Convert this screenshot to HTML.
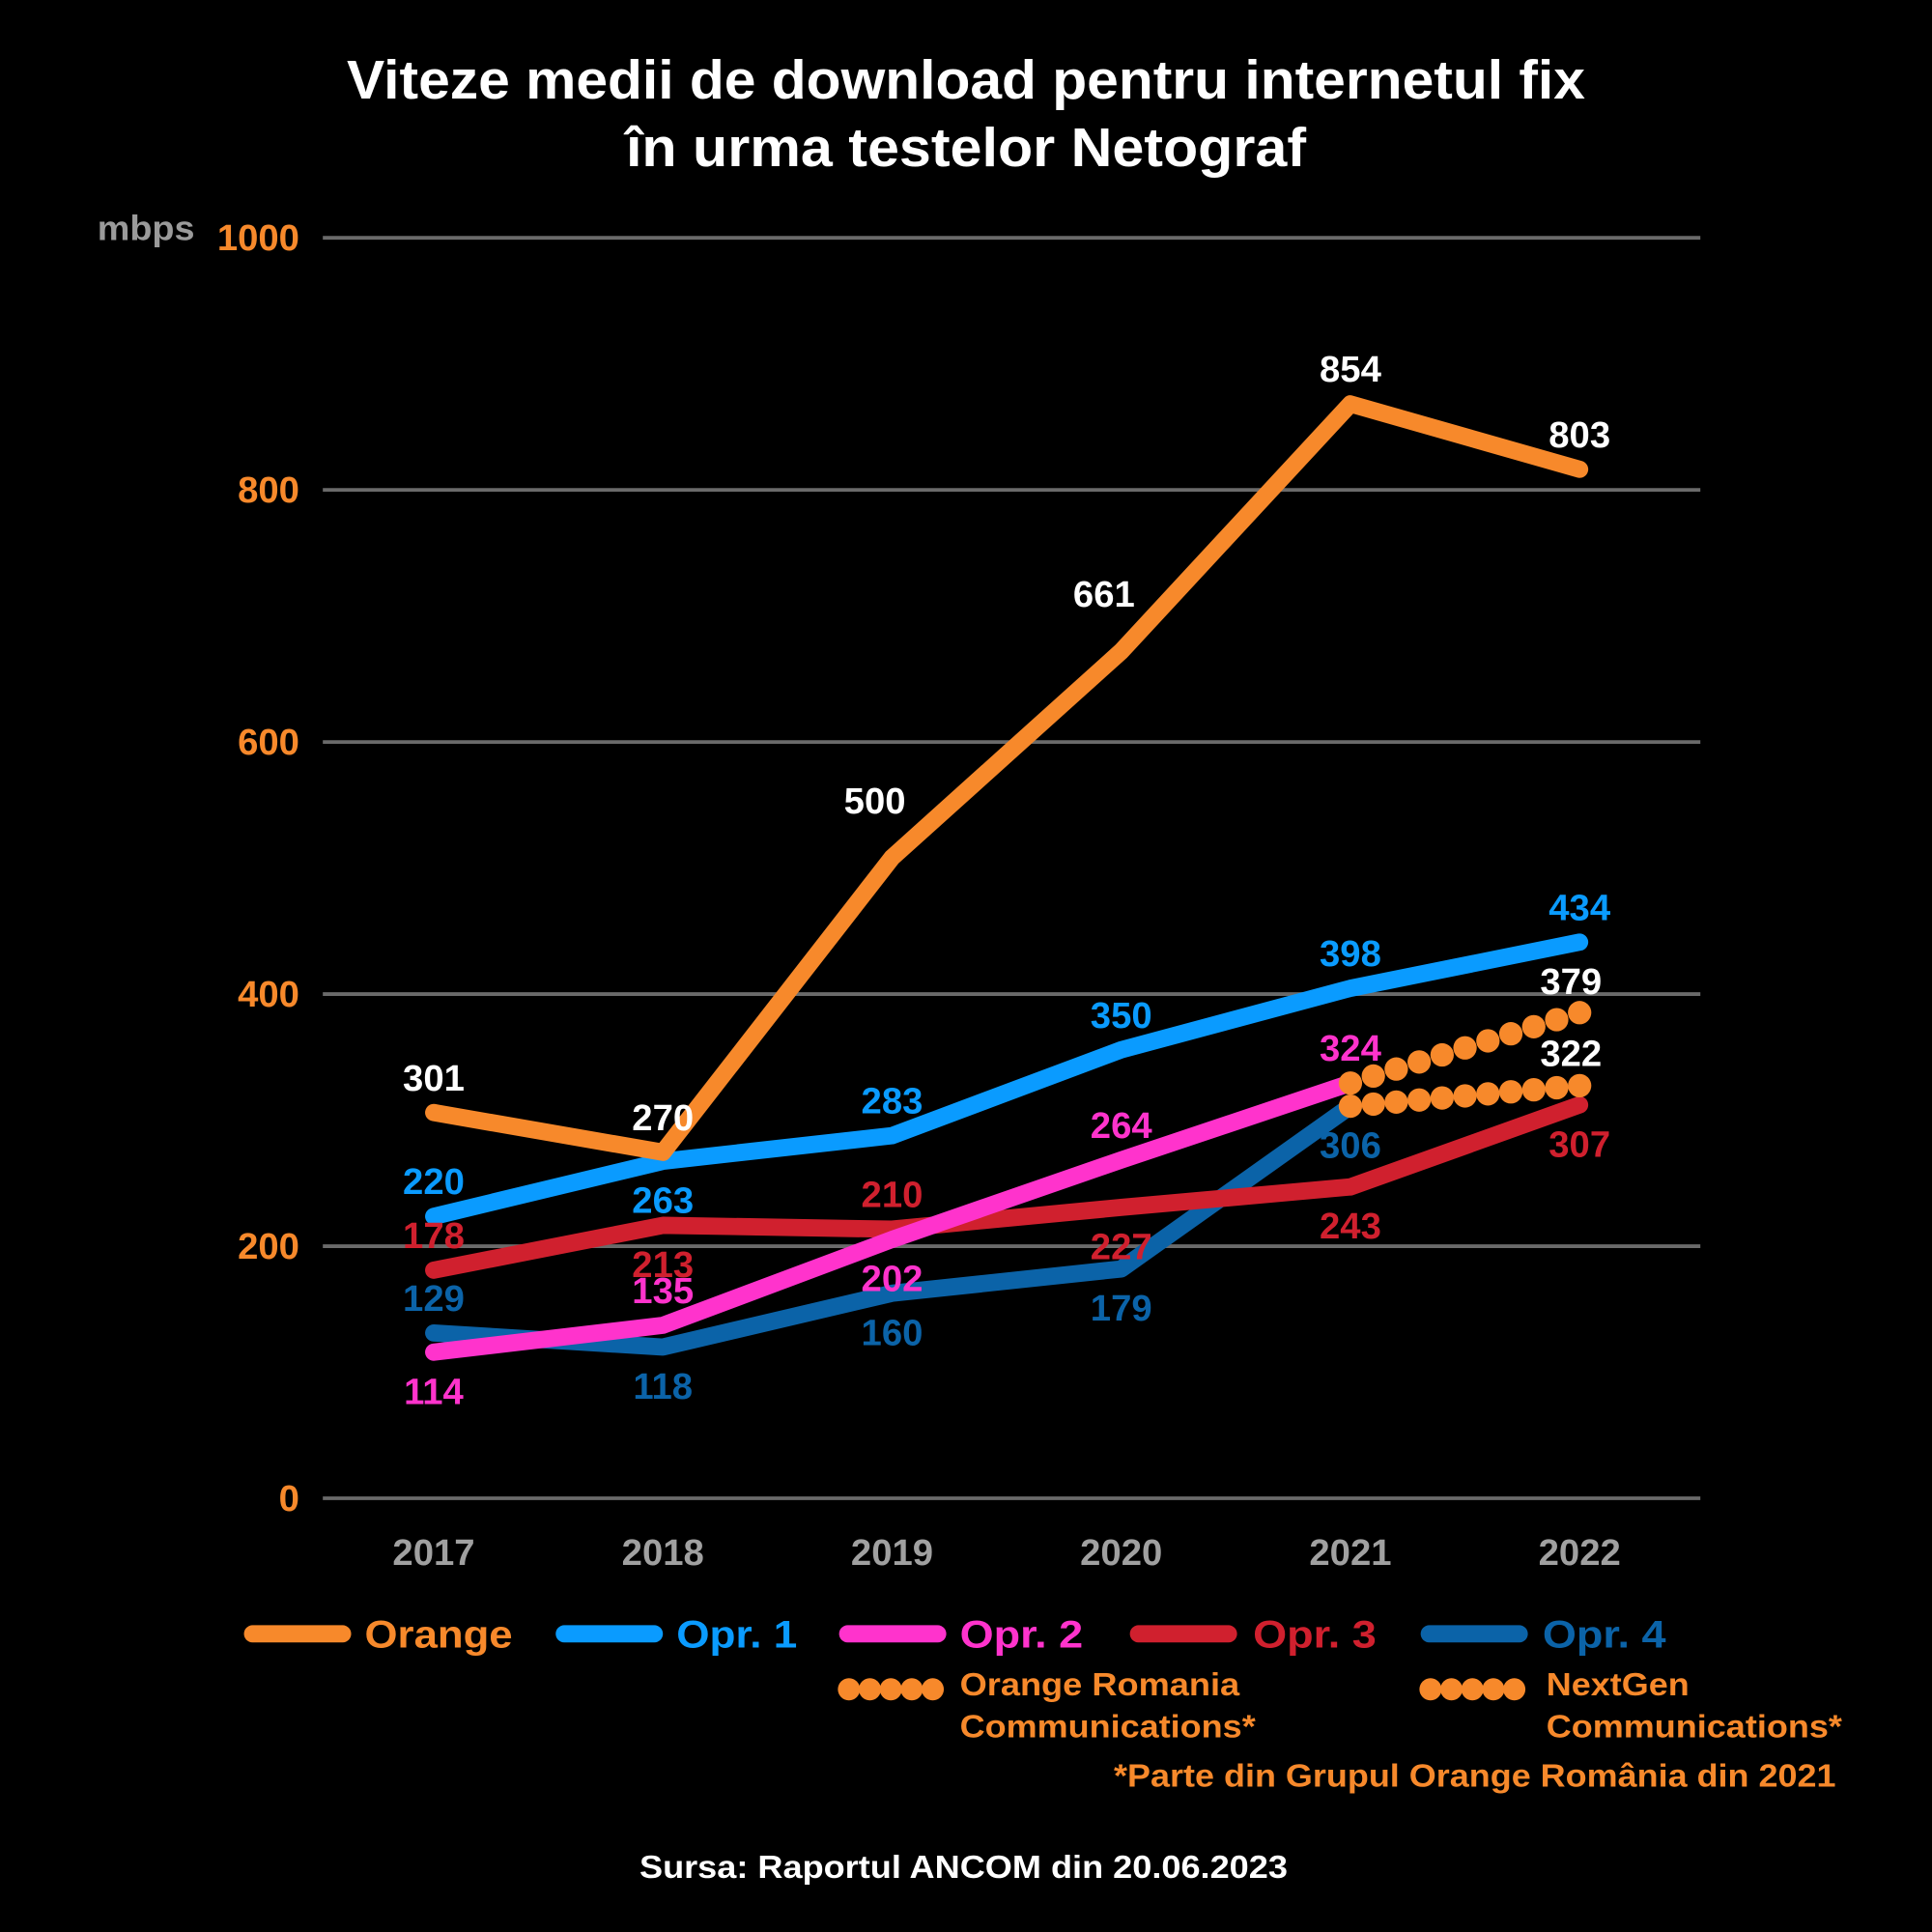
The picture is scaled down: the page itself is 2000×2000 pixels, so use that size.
<!DOCTYPE html>
<html><head><meta charset="utf-8">
<style>
html,body{margin:0;padding:0;background:#000;}
svg{display:block;}
text{font-family:"Liberation Sans",Arial,sans-serif;font-weight:bold;}
</style></head>
<body>
<svg id="chart" width="2000" height="2000" viewBox="0 0 1568 1568" xmlns="http://www.w3.org/2000/svg">
<rect width="1568" height="1568" fill="#000"/>
<text x="784" y="80" text-anchor="middle" fill="#fff" font-size="44" textLength="1005" lengthAdjust="spacingAndGlyphs">Viteze medii de download pentru internetul fix</text>
<text x="784" y="135" text-anchor="middle" fill="#fff" font-size="44" textLength="552" lengthAdjust="spacingAndGlyphs">în urma testelor Netograf</text>
<text x="79" y="195" fill="#9a9a9a" font-size="28" textLength="79" lengthAdjust="spacingAndGlyphs">mbps</text>
<g id="grid"></g>
<g id="series"></g>
<g id="labels"></g>
<g id="legend">
 <line x1="205" y1="1326" x2="278" y2="1326" stroke="#F7892B" stroke-width="14" stroke-linecap="round"/>
 <text x="296" y="1337" fill="#F7892B" font-size="31" textLength="120" lengthAdjust="spacingAndGlyphs">Orange</text>
 <line x1="458" y1="1326" x2="531" y2="1326" stroke="#0A9BFF" stroke-width="14" stroke-linecap="round"/>
 <text x="549" y="1337" fill="#0A9BFF" font-size="31" textLength="98" lengthAdjust="spacingAndGlyphs">Opr. 1</text>
 <line x1="688" y1="1326" x2="761" y2="1326" stroke="#FF33CC" stroke-width="14" stroke-linecap="round"/>
 <text x="779" y="1337" fill="#FF33CC" font-size="31" textLength="100" lengthAdjust="spacingAndGlyphs">Opr. 2</text>
 <line x1="924" y1="1326" x2="997" y2="1326" stroke="#D0202E" stroke-width="14" stroke-linecap="round"/>
 <text x="1017" y="1337" fill="#D0202E" font-size="31" textLength="100" lengthAdjust="spacingAndGlyphs">Opr. 3</text>
 <line x1="1160" y1="1326" x2="1233" y2="1326" stroke="#0B63A8" stroke-width="14" stroke-linecap="round"/>
 <text x="1252" y="1337" fill="#0B63A8" font-size="31" textLength="100" lengthAdjust="spacingAndGlyphs">Opr. 4</text>
 <g fill="#F7892B">
  <circle cx="689" cy="1371" r="9"/><circle cx="706" cy="1371" r="9"/><circle cx="723" cy="1371" r="9"/><circle cx="740" cy="1371" r="9"/><circle cx="757" cy="1371" r="9"/>
 </g>
 <text x="779" y="1376" fill="#F7892B" font-size="26" textLength="227" lengthAdjust="spacingAndGlyphs">Orange Romania</text>
 <text x="779" y="1410" fill="#F7892B" font-size="26" textLength="240" lengthAdjust="spacingAndGlyphs">Communications*</text>
 <g fill="#F7892B">
  <circle cx="1161" cy="1371" r="9"/><circle cx="1178" cy="1371" r="9"/><circle cx="1195" cy="1371" r="9"/><circle cx="1212" cy="1371" r="9"/><circle cx="1229" cy="1371" r="9"/>
 </g>
 <text x="1255" y="1376" fill="#F7892B" font-size="26" textLength="116" lengthAdjust="spacingAndGlyphs">NextGen</text>
 <text x="1255" y="1410" fill="#F7892B" font-size="26" textLength="240" lengthAdjust="spacingAndGlyphs">Communications*</text>
 <text x="1490" y="1450" text-anchor="end" fill="#F7892B" font-size="26" textLength="586" lengthAdjust="spacingAndGlyphs">*Parte din Grupul Orange România din 2021</text>
</g>
<text x="782" y="1524" text-anchor="middle" fill="#fff" font-size="26" textLength="526" lengthAdjust="spacingAndGlyphs">Sursa: Raportul ANCOM din 20.06.2023</text>
</svg>
<script>
const years = ["2017","2018","2019","2020","2021","2022"];
const yTicks = [0,200,400,600,800,1000];
const orangeVals = [301,270,500,661,854,803];
const opr1Vals = [220,263,283,350,398,434];
const opr2Vals = [114,135,202,264,324];
const opr3Vals = [178,213,210,227,243,307];
const opr4Vals = [129,118,160,179,306];
const orcVals = [324,379];
const nextgenVals = [306,322];

const NS="http://www.w3.org/2000/svg";
function xPos(i){return 352 + i*186;}
function yPos(v){return 1216 - v*1.023;}
function yMark(v){return 1216 - v*1.04;}
function mk(tag,attrs,parent){const e=document.createElementNS(NS,tag);for(const k in attrs)e.setAttribute(k,attrs[k]);parent.appendChild(e);return e;}

const grid=document.getElementById('grid');
yTicks.forEach(t=>{
  const l=mk('line',{x1:262,x2:1380,y1:yPos(t),y2:yPos(t),stroke:'#6a6a6a','stroke-width':3},grid);
  
  
  const tx=mk('text',{x:243,y:yPos(t)+10,'text-anchor':'end',fill:'#F7892B','font-size':30},grid);
  tx.textContent=t;
  
  
});
years.forEach((y,i)=>{
  const tx=mk('text',{x:xPos(i),y:1270,'text-anchor':'middle',fill:'#a0a0a0','font-size':30},grid);
  tx.textContent=y;
  
  
});

const ser=document.getElementById('series'), lab=document.getElementById('labels');
const series=[
 {name:'opr4',vals:opr4Vals,color:'#0B63A8',pos:['a','b','b','b','b'],lc:'#0B63A8'},
 {name:'opr3',vals:opr3Vals,color:'#D0202E',pos:['a','b','a','b','b','b'],lc:'#D0202E'},
 {name:'opr2',vals:opr2Vals,color:'#FF33CC',pos:['b','a','b','a','a'],lc:'#FF33CC'},
 {name:'opr1',vals:opr1Vals,color:'#0A9BFF',pos:['a','b','a','a','a','a'],lc:'#0A9BFF'},
 {name:'orange',vals:orangeVals,color:'#F7892B',pos:['a','a','al','al','a','a'],lc:'#ffffff'}
];
series.forEach(s=>{
  const pts=s.vals.map((v,i)=>xPos(i)+','+yMark(v)).join(' ');
  const p=mk('polyline',{points:pts,fill:'none',stroke:s.color,'stroke-width':14,'stroke-linecap':'round','stroke-linejoin':'round'},ser);
  
  
});
function dotted(vals,name){
  const g=mk('g',{fill:'#F7892B'},ser);
  
  
  const x0=xPos(4),x1=xPos(5),y0=yMark(vals[0]),y1=yMark(vals[1]);
  for(let k=0;k<11;k++){const f=k/10;mk('circle',{cx:x0+(x1-x0)*f,cy:y0+(y1-y0)*f,r:9.5},g);}
}
dotted(orcVals,'orange-romania-communications');
dotted(nextgenVals,'nextgen-communications');

function label(x,y,txt,color,name){
  const t=mk('text',{x:x,y:y,'text-anchor':'middle',fill:color,'font-size':30},lab);
  t.textContent=txt;
  
  
}
series.forEach(s=>{
  s.vals.forEach((v,i)=>{
    let x=xPos(i),y=yMark(v);
    const p=s.pos[i];
    if(p==='a'){y-=18;}
    else if(p==='al'){x-=14;y-=36;}
    else {y+=42;}
    label(x,y,v,s.lc,'label-'+s.name+'-'+years[i]);
  });
});
label(xPos(5)-7,yMark(orcVals[1])-15,orcVals[1],'#fff','label-orc-2022');
label(xPos(5)-7,yMark(nextgenVals[1])-16,nextgenVals[1],'#fff','label-nextgen-2022');
</script>
</body></html>
